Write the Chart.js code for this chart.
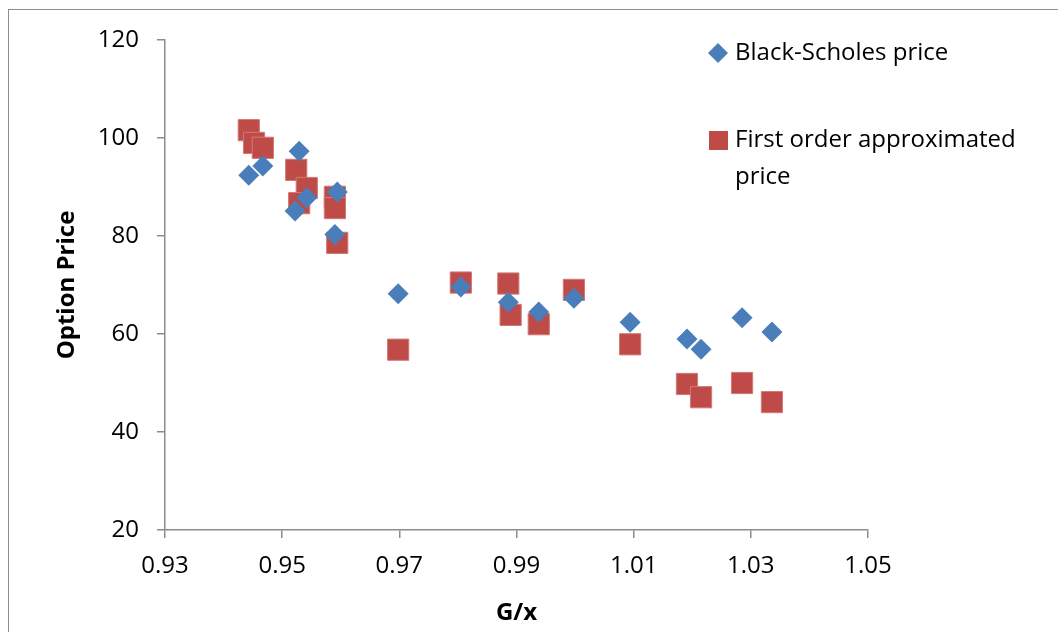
<!DOCTYPE html>
<html>
<head>
<meta charset="utf-8">
<script src="https://cdn.jsdelivr.net/npm/chart.js@4"></script>
<style>
  html, body { margin: 0; padding: 0; background: #fff; overflow: hidden; }
  #wrap { position: relative; width: 1058px; height: 632px; }
  #frame {
    position: absolute; left: 8px; top: 9px; width: 1100px; height: 700px;
    border: 1.5px solid #8c8c8c; box-sizing: border-box; pointer-events: none;
  }
</style>
</head>
<body>
<div id="wrap">
  <canvas id="myChart" width="1058" height="632"></canvas>
  <div id="frame"></div>
</div>
<script>
// G/x ratio and price for the Black-Scholes series
const bsX = [0.9443, 0.9467, 0.9529, 0.9522, 0.9542, 0.9594, 0.959, 0.9698, 0.9805,
  0.9886, 0.9938, 0.9998, 1.0094, 1.0191, 1.0215, 1.0285, 1.0336];
const bsY = [92.4, 94.3, 97.3, 85.1, 87.8, 89.0, 80.3, 68.2, 69.6,
  66.5, 64.5, 67.3, 62.4, 59.0, 56.9, 63.3, 60.4];

// G/x ratio and price for the first order approximation
const foX = [0.9443, 0.9452, 0.9467, 0.9524, 0.9542, 0.9529, 0.959, 0.959, 0.9594,
  0.9698, 0.9805, 0.9886, 0.989, 0.9938, 0.9998, 1.0094, 1.0191, 1.0215, 1.0285, 1.0336];
const foY = [101.6, 99.0, 98.0, 93.5, 89.8, 86.7, 88.0, 85.7, 78.6,
  56.8, 70.5, 70.3, 63.9, 62.0, 69.0, 57.9, 49.8, 47.1, 50.0, 46.1];

const xTicks = [0.93, 0.95, 0.97, 0.99, 1.01, 1.03, 1.05];
const yTicks = [20, 40, 60, 80, 100, 120];

const seriesNames = ["Black-Scholes price", "First order approximated price"];

const BLUE = "#4a7ebb";
const RED = "#be4b48";
const AXIS = "#8c8c8c";
const FONT = "'Open Sans', sans-serif";

function toPoints(xs, ys) {
  return xs.map((x, i) => ({ x: x, y: ys[i] }));
}

// legend sits inside the plot, to the upper right
const legendPlugin = {
  id: "sideLegend",
  afterDraw(chart) {
    const ctx = chart.ctx;
    ctx.save();
    ctx.font = "24px " + FONT;
    ctx.textBaseline = "middle";

    ctx.fillStyle = BLUE;
    ctx.beginPath();
    ctx.moveTo(718, 43);
    ctx.lineTo(728, 53);
    ctx.lineTo(718, 63);
    ctx.lineTo(708, 53);
    ctx.closePath();
    ctx.fill();
    ctx.fillStyle = "#000";
    ctx.fillText(seriesNames[0], 735, 53);

    ctx.fillStyle = RED;
    ctx.fillRect(709, 131, 19, 19);
    ctx.fillStyle = "#000";
    ctx.fillText("First order approximated", 735, 140);
    ctx.fillText("price", 735, 177);
    ctx.restore();
  },
};

new Chart(document.getElementById("myChart"), {
  type: "scatter",
  data: {
    datasets: [
      {
        label: seriesNames[0],
        data: toPoints(bsX, bsY),
        pointStyle: "rectRot",
        pointRadius: 10.5,
        pointHoverRadius: 10.5,
        borderWidth: 0,
        backgroundColor: BLUE,
        borderColor: BLUE,
      },
      {
        label: seriesNames[1],
        data: toPoints(foX, foY),
        pointStyle: "rect",
        pointRadius: 15,
        pointHoverRadius: 15,
        borderWidth: 1,
        backgroundColor: RED,
        borderColor: "#d27a77",
      },
    ],
  },
  options: {
    responsive: false,
    animation: false,
    layout: { padding: { top: 40, right: 190, bottom: 0, left: 0 } },
    plugins: {
      legend: { display: false },
      tooltip: { enabled: false },
    },
    scales: {
      x: {
        type: "linear",
        min: 0.93,
        max: 1.05,
        afterBuildTicks: (axis) => {
          axis.ticks = xTicks.map((v) => ({ value: v }));
        },
        afterFit: (axis) => {
          axis.height = 102;
        },
        grid: { drawOnChartArea: false, drawTicks: true, tickLength: 8, color: AXIS, lineWidth: 1.5 },
        border: { color: AXIS, width: 1.5 },
        ticks: {
          color: "#000",
          padding: 14,
          font: { family: FONT, size: 24 },
          callback: (v) => v.toFixed(2),
        },
        title: {
          display: true,
          text: "G/x",
          color: "#000",
          padding: { top: 2 },
          font: { family: FONT, size: 24, weight: "bold" },
        },
      },
      y: {
        type: "linear",
        min: 20,
        max: 120,
        afterBuildTicks: (axis) => {
          axis.ticks = yTicks.map((v) => ({ value: v }));
        },
        afterFit: (axis) => {
          axis.width = 165;
        },
        grid: { drawOnChartArea: false, drawTicks: true, tickLength: 8, color: AXIS, lineWidth: 1.5 },
        border: { color: AXIS, width: 1.5 },
        ticks: {
          color: "#000",
          padding: 18,
          font: { family: FONT, size: 24 },
        },
        title: {
          display: true,
          text: "Option Price",
          color: "#000",
          padding: { top: 53 },
          font: { family: FONT, size: 24, weight: "bold" },
        },
      },
    },
  },
  plugins: [legendPlugin],
});
</script>
</body>
</html>
